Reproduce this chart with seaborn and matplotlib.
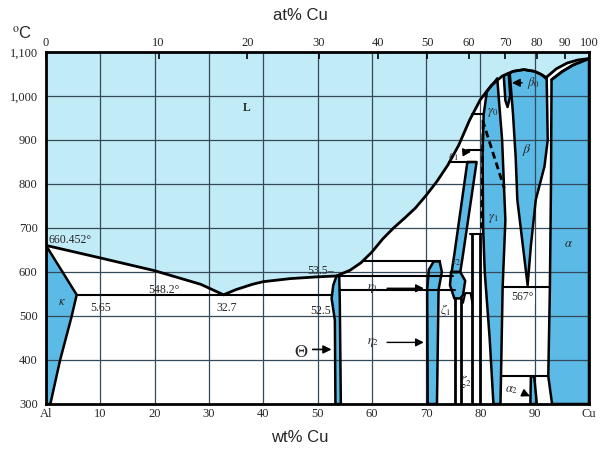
import numpy as np
import matplotlib
matplotlib.use("Agg")
import matplotlib.pyplot as plt
import seaborn as sns

# axis ticks
wt_ticks = [0, 10, 20, 30, 40, 50, 60, 70, 80, 90, 100]
wt_labels = ["Al", "10", "20", "30", "40", "50", "60", "70", "80", "90", "Cu"]
at_ticks = [0, 10, 20, 30, 40, 50, 60, 70, 80, 90, 100]
t_ticks = [300, 400, 500, 600, 700, 800, 900, 1000, 1100]
t_labels = ["300", "400", "500", "600", "700", "800", "900", "1,000", "1,100"]

# liquidus, Al side up to the dip next to Cu (wt%, degC)
liq_wt = [0, 10, 20, 28.5, 32.7, 35, 38, 40, 45, 50, 53.5, 56, 58, 60, 62, 64, 66, 68, 70,
          72, 74, 76, 78, 80, 82, 84, 86, 88, 90, 91.2, 92]
liq_t = [660.452, 632, 603, 572, 548.2, 560, 572, 578, 585, 589, 591, 604, 621, 645, 675, 700,
         722, 745, 774, 806, 843, 888, 945, 992, 1024, 1045, 1056, 1060, 1056, 1049, 1041]
# alpha liquidus / solidus near Cu
cu_liq_wt = [92, 94, 96, 98, 100]
cu_liq_t = [1041, 1062, 1075, 1082, 1085]
cu_sol_wt = [93.1, 95, 97, 99, 100]
cu_sol_t = [1037, 1055, 1070, 1080, 1085]

# single phase fields
kappa_wt = [0, 5.65, 4.7, 2.6, 0.8, 0]
kappa_t = [660.452, 548.2, 498, 400, 300, 300]
theta_wt = [53.5, 52.9, 52.6, 53.2, 53.3, 54.3, 54.1, 54.0]
theta_t = [591, 570, 540, 490, 300, 300, 540, 591]
eta_wt = [70.3, 70.2, 70.5, 71.4, 72.5, 72.9, 72.3, 72.0]
eta_t = [300, 560, 605, 624, 624, 600, 560, 300]
zeta_wt = [74.6, 76.3, 77.2, 76.8, 76.3, 75.2, 74.4]
zeta_t = [600, 600, 580, 548, 540, 540, 570]
eps2_wt = [77.6, 79.3, 76.8, 76.3, 74.7, 75.2]
eps2_t = [850, 850, 640, 600, 600, 640]
gamma_wt = [82.5, 83.1, 84.0, 84.6, 84.1, 83.7, 82.4, 81.7, 80.8, 80.5, 80.4, 80.6, 81.2]
gamma_t = [1030, 1040, 900, 718, 567, 300, 300, 450, 600, 700, 877, 958, 1010]
beta0_wt = [84.3, 85.2, 85.5, 85.0, 84.6]
beta0_t = [1046, 1052, 1000, 975, 990]
beta_wt = [85.4, 86, 88, 90, 91.2, 92.2, 92.4, 91.8, 90.2, 89.3, 88.7, 86.8, 86.5, 86.0]
beta_t = [1052, 1056, 1060, 1056, 1049, 1042, 900, 840, 764, 660, 570, 764, 860, 960]
alpha_wt = [93.2, 92.5, 92.8, 93.0, 93.1, 95, 97, 99, 100, 100]
alpha_t = [300, 363, 567, 800, 1037, 1055, 1070, 1080, 1085, 300]
alpha2_wt = [89.3, 89.9, 90.4, 89.2]
alpha2_t = [363, 363, 300, 300]

# horizontal reaction lines: (T, from wt, to wt)
isotherms = [(548.2, 5.65, 52.6), (591, 53.5, 75.0), (624, 58.3, 72.5), (558, 54.2, 75.3),
             (958, 78.5, 80.6), (877, 77.5, 80.4), (850, 74.3, 79.0), (686, 78.0, 80.5),
             (567, 84.1, 92.8), (363, 84.0, 92.5)]
# vertical-ish lines
delta_lines = [([78.4, 78.4], [300, 686]), ([79.9, 79.9], [300, 686]),
               ([75.3, 75.3], [300, 540]), ([76.4, 76.4], [300, 540])]
trap_wt = [76.8, 77.2, 78.2, 78.5]
trap_t = [530, 552, 552, 530]
dashed_lines = [([80.4, 84.4], [945, 790]), ([80.5, 80.2], [940, 700])]

L_COL = "#c2ebf8"
DARK = "#5bbae6"


def wt2at(w):
    w = np.asarray(w, dtype=float)
    with np.errstate(divide="ignore", invalid="ignore"):
        return 100 * (w / 63.546) / (w / 63.546 + (100 - w) / 26.98)


def at2wt(a):
    a = np.asarray(a, dtype=float)
    with np.errstate(divide="ignore", invalid="ignore"):
        return 100 * (a * 63.546) / (a * 63.546 + (100 - a) * 26.98)


sns.set_theme(style="white")
plt.rcParams["mathtext.fontset"] = "stix"

fig = plt.figure(figsize=(6, 4.5), dpi=100)
ax = fig.add_axes([46 / 600, 1 - 404 / 450, (589 - 46) / 600, 352 / 450])
ax.set_xlim(0, 100)
ax.set_ylim(300, 1100)


def line(x, y, lw=1.8, ls="-", z=4):
    sns.lineplot(x=x, y=y, sort=False, estimator=None, color="black", lw=lw,
                 linestyle=ls, ax=ax, zorder=z)


def closed(x, y, lw=1.8):
    line(list(x) + [x[0]], list(y) + [y[0]], lw=lw)


# liquid field
ax.fill_between(liq_wt + cu_liq_wt, liq_t + cu_liq_t, 1100, color=L_COL, lw=0, zorder=1)

for xs, ys in [(kappa_wt, kappa_t), (theta_wt, theta_t), (eta_wt, eta_t), (zeta_wt, zeta_t),
               (eps2_wt, eps2_t), (gamma_wt, gamma_t), (beta0_wt, beta0_t), (beta_wt, beta_t),
               (alpha_wt, alpha_t), (alpha2_wt, alpha2_t)]:
    ax.fill(xs, ys, color=DARK, lw=0, zorder=1)
    closed(xs, ys)

# grid
for g in range(10, 100, 10):
    ax.axvline(g, color="#34495a", lw=0.9, zorder=2)
for g in range(400, 1100, 100):
    ax.axhline(g, color="#34495a", lw=0.9, zorder=2)

line(liq_wt, liq_t, lw=2)
line(cu_liq_wt, cu_liq_t, lw=2)
line(cu_sol_wt, cu_sol_t, lw=2)
for t, a, b in isotherms:
    line([a, b], [t, t], lw=1.5)
for xs, ys in delta_lines:
    line(xs, ys, lw=2)
line(trap_wt, trap_t, lw=1.5)
for xs, ys in dashed_lines:
    line(xs, ys, lw=2, ls=(0, (2.5, 1.5)))

# axes styling
for s in ax.spines.values():
    s.set_color("black")
    s.set_linewidth(2)
ax.set_xticks(wt_ticks)
ax.set_xticklabels(wt_labels, fontfamily="Liberation Serif", fontsize=9)
ax.set_yticks(t_ticks)
ax.set_yticklabels(t_labels, fontfamily="Liberation Serif", fontsize=9)
ax.tick_params(axis="x", length=0, pad=3)
ax.tick_params(axis="y", length=0, pad=6)
ax.set_xlabel("")
ax.set_ylabel("")

sec = ax.secondary_xaxis("top", functions=(wt2at, at2wt))
sec.set_zorder(8)
sec.set_xticks(at_ticks)
sec.set_xticklabels([str(v) for v in at_ticks], fontfamily="Liberation Serif", fontsize=9)
sec.tick_params(top=True, length=5, width=1.2, direction="in", color="black", pad=2)
sec.spines["top"].set_visible(False)

fig.text(0.5, 1 - 15 / 450, "at% Cu", ha="center", va="center", fontsize=12,
         family="Liberation Sans")
fig.text(0.5, 1 - 437 / 450, "wt% Cu", ha="center", va="center", fontsize=12,
         family="Liberation Sans")
fig.text(12 / 600, 1 - 33 / 450, "$^{\\mathrm{o}}$C", ha="left", va="center", fontsize=12,
         family="Liberation Sans")

# region labels
sf = dict(fontfamily="Liberation Serif", fontsize=8.5, zorder=6)
ax.text(36.9, 973, "L", ha="center", va="center", fontweight="bold", **sf)
ax.text(0.5, 672, "660.452°", ha="left", va="center", **sf)
ax.text(21.7, 560, "548.2°", ha="center", va="center", **sf)
ax.text(10, 518, "5.65", ha="center", va="center", **sf)
ax.text(33.3, 518, "32.7", ha="center", va="center", **sf)
ax.text(53.0, 603, "53.5–", ha="right", va="center", **sf)
ax.text(50.5, 512, "52.5", ha="center", va="center", **sf)
ax.text(3.0, 532, r"$\kappa$", ha="center", va="center", fontsize=9, zorder=6)
ax.text(47.0, 418, r"$\Theta$", ha="center", va="center", fontsize=13, zorder=6)
ax.annotate("", xy=(53.1, 424), xytext=(48.6, 424), zorder=6,
            arrowprops=dict(arrowstyle="-|>", color="black", lw=1.2))
ax.text(60.2, 563, r"$\eta_1$", ha="center", va="center", fontsize=9, zorder=6)
ax.annotate("", xy=(70.1, 563), xytext=(62.3, 563), zorder=6,
            arrowprops=dict(arrowstyle="-|>", color="black", lw=1.0))
ax.text(60.2, 440, r"$\eta_2$", ha="center", va="center", fontsize=9, zorder=6)
ax.annotate("", xy=(70.1, 440), xytext=(62.3, 440), zorder=6,
            arrowprops=dict(arrowstyle="-|>", color="black", lw=1.0))
ax.text(73.6, 512, r"$\zeta_1$", ha="center", va="center", fontsize=9, zorder=6)
ax.text(77.4, 352, r"$\zeta_2$", ha="center", va="center", fontsize=9, zorder=6)
ax.text(75.6, 622, r"$\varepsilon_2$", ha="center", va="center", fontsize=8, zorder=6)
ax.text(75.0, 862, r"$\varepsilon_1$", ha="center", va="center", fontsize=9, zorder=6)
ax.annotate("", xy=(78.8, 874), xytext=(76.6, 872), zorder=6,
            arrowprops=dict(arrowstyle="-|>", color="black", lw=1.0))
ax.text(82.3, 963, r"$\gamma_0$", ha="center", va="center", fontsize=9, zorder=6)
ax.text(82.3, 722, r"$\gamma_1$", ha="center", va="center", fontsize=9, zorder=6)
ax.text(89.8, 1030, r"$\beta_0$", ha="center", va="center", fontsize=9, zorder=6)
ax.annotate("", xy=(85.3, 1030), xytext=(88.2, 1030), zorder=6,
            arrowprops=dict(arrowstyle="-|>", color="black", lw=1.0))
ax.text(88.5, 877, r"$\beta$", ha="center", va="center", fontsize=10, zorder=6)
ax.text(96.2, 665, r"$\alpha$", ha="center", va="center", fontsize=9, zorder=6)
ax.text(87.8, 543, "567°", ha="center", va="center", zorder=6,
        fontfamily="Liberation Serif", fontsize=8.5,
        bbox=dict(facecolor="white", edgecolor="none", pad=1))
ax.text(85.8, 332, r"$\alpha_2$", ha="center", va="center", fontsize=9, zorder=6)
ax.annotate("", xy=(89.6, 315), xytext=(87.3, 328), zorder=6,
            arrowprops=dict(arrowstyle="-|>", color="black", lw=1.0))

fig.savefig("out.png", dpi=100)
